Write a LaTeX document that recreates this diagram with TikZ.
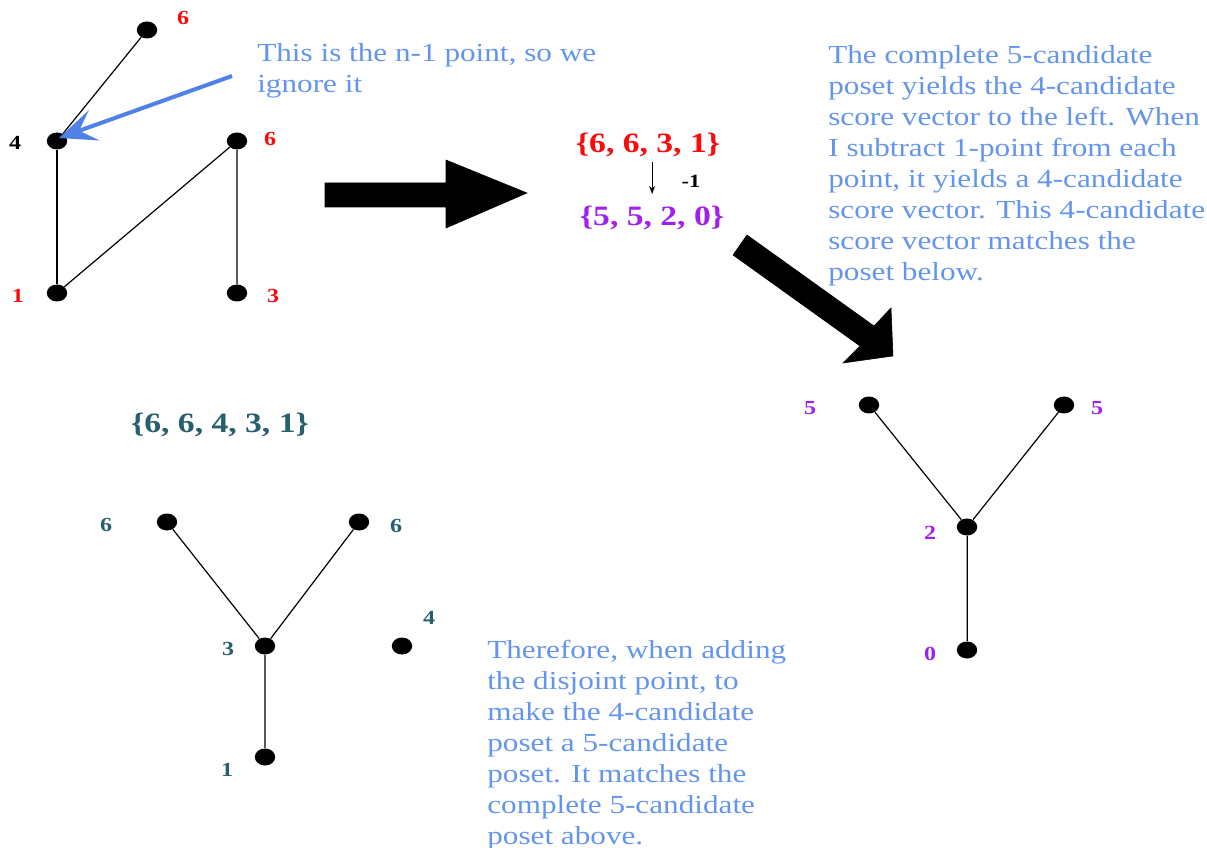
\documentclass[tikz,border=0pt]{standalone}
\usepackage{fontspec}
\setmainfont{Liberation Serif}
\usetikzlibrary{arrows.meta}
\definecolor{txtblue}{RGB}{100,149,237}
\definecolor{arrblue}{RGB}{79,129,230}
\definecolor{lblred}{RGB}{250,10,10}
\definecolor{lblpurple}{RGB}{160,32,240}
\definecolor{lblteal}{RGB}{40,95,110}
\tikzset{
  dot/.style={circle, fill=black, inner sep=0pt, minimum size=12.75pt, transform shape},
  lbl/.style={font=\fontsize{15}{17}\selectfont\bfseries, inner sep=0pt, transform shape},
  note/.style={font=\fontsize{19.5}{23.25}\selectfont, text=txtblue, align=left, anchor=north west, inner sep=0pt, transform shape},
  setlbl/.style={font=\fontsize{21}{24}\selectfont\bfseries, inner sep=0pt, transform shape},
  edge/.style={line width=0.9pt, black},
  bigarrow/.style={fill=black, draw=black, line join=miter},
}
\begin{document}
\begin{tikzpicture}[x=0.625pt, y=-0.75pt, xscale=1.2]
\useasboundingbox (0,0) rectangle (1207,848);

% top-left poset
\node[dot] (t6a) at (147,30) {};
\node[dot] (t4) at (57,141) {};
\node[dot] (t6b) at (237,141) {};
\node[dot] (t1) at (57,293) {};
\node[dot] (t3) at (237,293) {};
\node[lbl, text=lblred] (lt6a) at (183,18) {6};
\node[lbl, text=black] (lt4) at (15,143) {4};
\node[lbl, text=lblred] (lt6b) at (270,139) {6};
\node[lbl, text=lblred] (lt1) at (18,296) {1};
\node[lbl, text=lblred] (lt3) at (273,296) {3};
\draw[edge] (t6a) -- (t4);
\draw[edge] (t4) -- (t1);
\draw[edge] (t1) -- (t6b);
\draw[edge] (t6b) -- (t3);

% note top
\node[note] (n1) at (257,43) {This is the n-1 point, so we\\ignore it};
\coordinate (bstart) at (232,76);
\coordinate (btip) at (59,138);
\draw[line width=3pt, arrblue, -{Stealth[length=28pt, width=24pt, inset=12pt]}] (bstart) -- (btip);

% big arrow right
\fill[bigarrow] (325,183) -- (446,183) -- (446,160) -- (527,193) -- (446,228) -- (446,207) -- (325,207) -- cycle;

% score vectors
\node[setlbl, text=lblred] (s1) at (648,145) {\{6, 6, 3, 1\}};
\node[setlbl, text=lblpurple] (s2) at (652,218) {\{5, 5, 2, 0\}};
\node[lbl, text=black, font=\fontsize{14}{16}\selectfont\bfseries] (m1) at (691,181) {-1};
\coordinate (da) at (652,162);
\coordinate (db) at (652,194);
\draw[line width=0.9pt, -{Stealth[length=6pt, width=4.5pt]}] (da) -- (db);

% diagonal big arrow
\fill[bigarrow] (733,255) -- (747,235) -- (874,326) -- (891,308) -- (893,356) -- (843,363) -- (860,346) -- cycle;

% right note
\node[note] (n2) at (828,45) {The complete 5-candidate\\poset yields the 4-candidate\\score vector to the left. When\\I subtract 1-point from each\\point, it yields a 4-candidate\\score vector. This 4-candidate\\score vector matches the\\poset below.};

% right poset
\node[dot] (r5a) at (869,405) {};
\node[dot] (r5b) at (1064,405) {};
\node[dot] (r2) at (967,527) {};
\node[dot] (r0) at (967,650) {};
\node[lbl, text=lblpurple] (lr5a) at (810,408) {5};
\node[lbl, text=lblpurple] (lr5b) at (1097,408) {5};
\node[lbl, text=lblpurple] (lr2) at (930,533) {2};
\node[lbl, text=lblpurple] (lr0) at (930,654) {0};
\draw[edge] (r5a) -- (r2);
\draw[edge] (r5b) -- (r2);
\draw[edge] (r2) -- (r0);

% bottom-left
\node[setlbl, text=lblteal] (s3) at (220,425) {\{6, 6, 4, 3, 1\}};
\node[dot] (b6a) at (167,522) {};
\node[dot] (b6b) at (359,522) {};
\node[dot] (b3) at (265,646) {};
\node[dot] (b1) at (265,757) {};
\node[dot] (b4) at (402,646) {};
\node[lbl, text=lblteal] (lb6a) at (106,525) {6};
\node[lbl, text=lblteal] (lb6b) at (396,526) {6};
\node[lbl, text=lblteal] (lb3) at (228,649) {3};
\node[lbl, text=lblteal] (lb1) at (227,770) {1};
\node[lbl, text=lblteal] (lb4) at (429,618) {4};
\draw[edge] (b6a) -- (b3);
\draw[edge] (b6b) -- (b3);
\draw[edge] (b3) -- (b1);

% bottom note
\node[note] (n3) at (487,640) {Therefore, when adding\\the disjoint point, to\\make the 4-candidate\\poset a 5-candidate\\poset. It matches the\\complete 5-candidate\\poset above.};
\end{tikzpicture}
\end{document}
